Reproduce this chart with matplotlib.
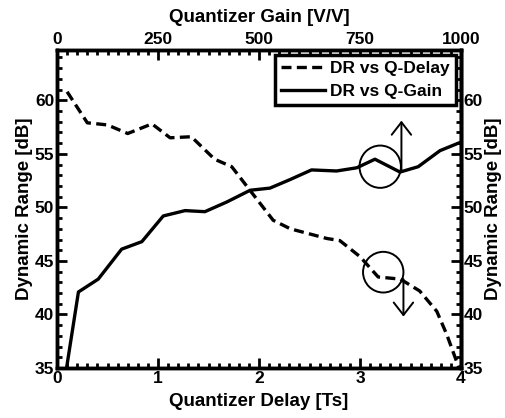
import matplotlib.pyplot as plt
from matplotlib.patches import Ellipse
from matplotlib.ticker import MultipleLocator

# DR vs quantizer delay (bottom axis, Ts)
delay_ts = [0.1, 0.3, 0.5, 0.7, 0.94, 1.12, 1.33, 1.56, 1.73, 1.91, 2.14, 2.31,
            2.67, 2.8, 3.0, 3.18, 3.4, 3.59, 3.76, 3.86, 3.98]
dr_delay = [60.8, 57.9, 57.7, 56.9, 57.8, 56.5, 56.6, 54.5, 53.8, 51.6, 48.8, 48.0,
            47.1, 46.9, 45.4, 43.5, 43.3, 42.2, 40.3, 38.1, 35.0]

# DR vs quantizer gain (top axis, V/V)
gain_vv = [0, 53, 102, 160, 210, 263, 317, 366, 420, 478, 527, 577, 630, 692,
           742, 787, 849, 894, 948, 1000]
dr_gain = [29.3, 42.1, 43.3, 46.1, 46.8, 49.2, 49.7, 49.6, 50.5, 51.6, 51.8, 52.6,
           53.5, 53.4, 53.7, 54.5, 53.3, 53.8, 55.3, 56.1]

plt.rcParams['font.family'] = ['Liberation Sans', 'DejaVu Sans']
plt.rcParams['font.weight'] = 'bold'
plt.rcParams['font.size'] = 12.5

fig = plt.figure(figsize=(5.05, 4.18), dpi=100)
ax = fig.add_axes([0.1129, 0.1196, 0.8, 0.7608])

l1, = ax.plot(delay_ts, dr_delay, color='black', lw=2.4, dashes=(3, 1.6),
              label='DR vs Q-Delay')
ax.set_xlim(0, 4)
ax.set_ylim(35, 64.7)
ax.set_xticks([0, 1, 2, 3, 4])
ax.set_yticks([35, 40, 45, 50, 55, 60])
ax.xaxis.set_minor_locator(MultipleLocator(0.1))
ax.yaxis.set_minor_locator(MultipleLocator(1))
ax.tick_params(which='both', direction='in', width=2, top=False, right=False)
ax.tick_params(which='major', length=7, pad=2)
ax.tick_params(which='minor', length=3.5)
ax.set_xlabel('Quantizer Delay [Ts]', fontweight='bold', fontsize=13.5, labelpad=5)
ax.set_ylabel('Dynamic Range [dB]', fontweight='bold', fontsize=13.5, labelpad=1)

# right axis with the same dB scale
sec = ax.secondary_yaxis('right')
sec.set_yticks([35, 40, 45, 50, 55, 60])
sec.yaxis.set_minor_locator(MultipleLocator(1))
sec.tick_params(which='both', direction='in', width=2)
sec.tick_params(which='major', length=7, pad=2)
sec.tick_params(which='minor', length=3.5)
sec.set_ylabel('Dynamic Range [dB]', fontweight='bold', fontsize=13.5,
               rotation=90, labelpad=1)

# top axis for quantizer gain
ax2 = ax.twiny()
l2, = ax2.plot(gain_vv, dr_gain, color='black', lw=2.4, label='DR vs Q-Gain')
ax2.set_xlim(0, 1000)
ax2.set_xticks([0, 250, 500, 750, 1000])
ax2.xaxis.set_minor_locator(MultipleLocator(25))
ax2.tick_params(which='both', direction='in', width=2)
ax2.tick_params(which='major', length=7, pad=2)
ax2.tick_params(which='minor', length=3.5)
ax2.set_xlabel('Quantizer Gain [V/V]', fontweight='bold', fontsize=13.5, labelpad=7)

for a in (ax, ax2):
    for s in a.spines.values():
        s.set_linewidth(2.5)
sec.spines['right'].set_linewidth(2.5)

# circles and arrows marking which axis each curve uses
ax.add_patch(Ellipse((3.20, 53.8), 0.41, 3.95, fill=False, lw=1.4, color='black'))
ax.annotate('', xy=(3.41, 58.1), xytext=(3.41, 53.5),
            arrowprops=dict(arrowstyle='->,head_width=0.35,head_length=0.45',
                            lw=1.4, color='black', mutation_scale=20,
                            shrinkA=0, shrinkB=0))
ax.add_patch(Ellipse((3.23, 43.95), 0.40, 3.8, fill=False, lw=1.4, color='black'))
ax.annotate('', xy=(3.43, 39.8), xytext=(3.43, 43.3),
            arrowprops=dict(arrowstyle='->,head_width=0.35,head_length=0.45',
                            lw=1.4, color='black', mutation_scale=20,
                            shrinkA=0, shrinkB=0))

leg = ax2.legend(handles=[l1, l2], loc='upper right', fancybox=False,
                 framealpha=1, edgecolor='black', handlelength=2.5,
                 handletextpad=0.3, borderpad=0.35, labelspacing=0.45,
                 borderaxespad=0.3, prop={'weight': 'bold', 'size': 12.5})
leg.get_frame().set_linewidth(2.5)

fig.savefig('out.png', dpi=100)
